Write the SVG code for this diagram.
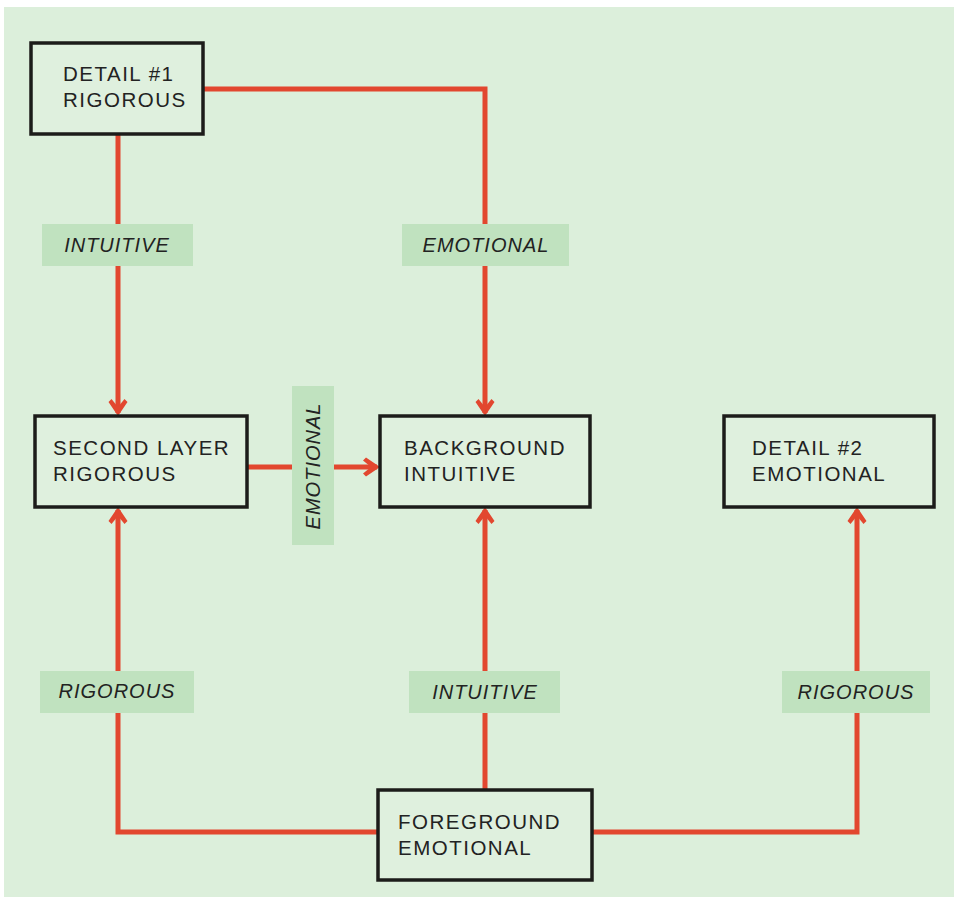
<svg xmlns="http://www.w3.org/2000/svg" width="954" height="897" viewBox="0 0 954 897">
  <defs>
    <style>
      .node rect { fill: #dff0de; stroke: #1c1c1a; stroke-width: 3.5; }
      .node text { font-family: "Liberation Sans", Arial, sans-serif; font-size: 20.5px; letter-spacing: 1.5px; fill: #222; }
      .conn { fill: none; stroke: #e2472f; stroke-width: 5; }
      .lbl rect { fill: #c0e2bf; }
      .lbl text { font-family: "Liberation Sans", Arial, sans-serif; font-size: 20px; font-style: italic; letter-spacing: 1px; fill: #222; text-anchor: middle; }
    </style>
    <marker id="arrow" markerUnits="userSpaceOnUse" viewBox="-18 -11 19 22" markerWidth="19" markerHeight="22" refX="-3" refY="0" orient="auto">
      <path d="M0,0 L-14,-9.5 L-17,-6.5 L-9,0 L-17,6.5 L-14,9.5 Z" fill="#e2472f"/>
    </marker>
  </defs>

  <rect x="4" y="7" width="950" height="890" fill="#dcefdb"/>

  <g id="connectors">
    <path class="conn" d="M118,134 V413" marker-end="url(#arrow)"/>
    <path class="conn" d="M203,89 H485 V413" marker-end="url(#arrow)"/>
    <path class="conn" d="M247,467 H377" marker-end="url(#arrow)"/>
    <path class="conn" d="M378,832 H118 V510" marker-end="url(#arrow)"/>
    <path class="conn" d="M485,790 V510" marker-end="url(#arrow)"/>
    <path class="conn" d="M592,832 H857 V510" marker-end="url(#arrow)"/>
  </g>

  <g id="labels">
    <g class="lbl" id="lbl-intuitive-1"><rect x="42" y="224" width="151" height="42"/><text x="117" y="252">INTUITIVE</text></g>
    <g class="lbl" id="lbl-emotional-1"><rect x="402" y="224" width="167" height="42"/><text x="486" y="252">EMOTIONAL</text></g>
    <g class="lbl" id="lbl-emotional-2"><rect x="292" y="386" width="42" height="159"/><text transform="translate(320,466) rotate(-90)" x="0" y="0">EMOTIONAL</text></g>
    <g class="lbl" id="lbl-rigorous-1"><rect x="40" y="671" width="154" height="42"/><text x="117" y="698">RIGOROUS</text></g>
    <g class="lbl" id="lbl-intuitive-2"><rect x="409" y="671" width="151" height="42"/><text x="485" y="699">INTUITIVE</text></g>
    <g class="lbl" id="lbl-rigorous-2"><rect x="782" y="671" width="148" height="42"/><text x="856" y="699">RIGOROUS</text></g>
  </g>

  <g class="node" id="detail1"><rect x="31" y="43" width="172" height="91"/><text x="63" y="81">DETAIL #1</text><text x="63" y="107">RIGOROUS</text></g>
  <g class="node" id="secondlayer"><rect x="35" y="416" width="212" height="91"/><text x="53" y="455">SECOND LAYER</text><text x="53" y="481">RIGOROUS</text></g>
  <g class="node" id="background"><rect x="380" y="416" width="210" height="91"/><text x="404" y="455">BACKGROUND</text><text x="404" y="481">INTUITIVE</text></g>
  <g class="node" id="detail2"><rect x="724" y="416" width="210" height="91"/><text x="752" y="455">DETAIL #2</text><text x="752" y="481">EMOTIONAL</text></g>
  <g class="node" id="foreground"><rect x="378" y="790" width="214" height="90"/><text x="398" y="829">FOREGROUND</text><text x="398" y="855">EMOTIONAL</text></g>
</svg>
